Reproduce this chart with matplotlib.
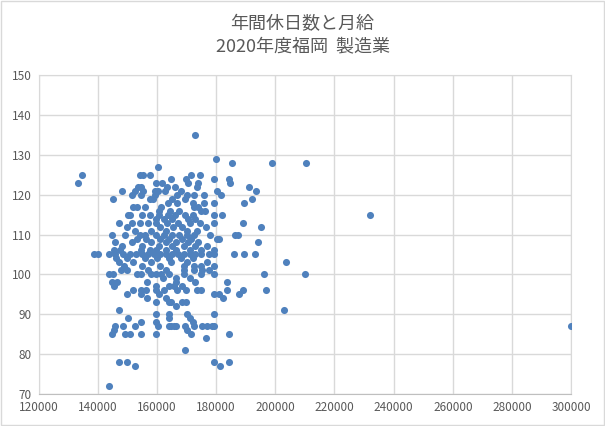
import matplotlib
matplotlib.use("Agg")
import matplotlib.pyplot as plt
from matplotlib.patches import Rectangle

plt.rcParams["font.family"] = ["Noto Sans CJK JP", "DejaVu Sans"]

# annual holidays (days) -> list of monthly salaries (yen)
ROWS = {
    135: [173000],
    129: [180000],
    128: [185300, 199000, 210500],
    127: [160300],
    125: [134700, 154200, 155200, 157500, 171600, 174500],
    124: [164700, 169700, 179300, 184200],
    123: [133300, 159700, 161700, 170500, 173800, 184700],
    122: [153600, 154700, 163500, 166000, 173600, 191200],
    121: [148300, 152500, 155300, 159200, 160300, 162800, 168000, 180300, 193600],
    120: [151400, 154700, 159200, 166900, 170000, 172500, 175800, 181600],
    119: [145000, 157500, 158600, 165000, 169500, 192000],
    118: [163600, 166900, 172000, 176000, 179300, 189300],
    117: [151900, 153100, 155800, 161500, 172500, 174000],
    116: [160800, 164500, 167500, 174700, 176200],
    115: [150300, 151000, 155000, 157500, 160500, 163800, 166200, 169500, 172000,
          179300, 181900, 232000],
    114: [159700, 162500, 165000, 170500, 173000],
    113: [147000, 151400, 154200, 157000, 159700, 163500, 167000, 171000, 174500,
          179300, 189000],
    112: [149700, 161000, 165500, 168500, 176500, 195000],
    111: [152500, 158000, 163000, 170000, 173500],
    110: [144700, 149200, 154200, 155800, 159700, 162500, 165000, 167500, 170000,
          172500, 178000, 186400, 187500],
    109: [153100, 156400, 161000, 164000, 168500, 171500, 180300, 181000],
    108: [145800, 151400, 158000, 163000, 166500, 170500, 174000, 194200],
    107: [148000, 155000, 160500, 165000, 169000, 173000, 177000],
    106: [145300, 147500, 154700, 157500, 159700, 163000, 166500, 171000, 175000, 179300],
    105: [138600, 140000, 143600, 145800, 148600, 151000, 153000, 155000, 157000,
          159000, 161000, 163000, 165000, 167000, 169000, 171000, 173000, 175000,
          177500, 179300, 186000, 189300, 193100],
    104: [146000, 150000, 156000, 160000, 164000, 168000, 172000],
    103: [147000, 152000, 158000, 164700, 170000, 177000, 203500],
    102: [149000, 155000, 161000, 169200, 172500, 174700, 179300],
    101: [147800, 149700, 157000, 163000, 169200, 172500, 175300, 177500],
    100: [143600, 145000, 153100, 154700, 158000, 159700, 161400, 164200, 169200,
          174700, 179300, 196000, 210000],
    99: [162000, 166400, 171000],
    98: [144700, 146400, 156600, 166400, 173000, 183600],
    97: [145300, 159700, 164200, 165800, 168500],
    96: [151900, 154700, 156200, 159700, 162500, 166900, 169700, 173600, 174900,
         183600, 189200, 197000],
    95: [149700, 154700, 160800, 179300, 180800, 187800],
    94: [156600, 163100, 182300],
    93: [159700, 164200, 164700, 168600, 169700],
    92: [166400],
    91: [147000, 203000],
    90: [159700, 164200, 170000, 179300],
    89: [150300, 164200, 171000],
    88: [154700, 159700, 172000],
    87: [145800, 148600, 152500, 160300, 164200, 164700, 165800, 166400, 169500,
         172500, 175300, 177000, 178600, 179300, 300000],
    86: [145300, 170000],
    85: [144700, 149200, 150700, 154700, 159700, 171500, 184200],
    84: [176400],
    81: [169500],
    78: [147000, 149700, 179300, 184200],
    77: [152600, 181300],
    72: [143600],
}

salary = [s for d, ss in ROWS.items() for s in ss]
holidays = [d for d, ss in ROWS.items() for s in ss]

X_TICKS = list(range(120000, 300001, 20000))
Y_TICKS = list(range(70, 151, 10))

TITLE = "年間休日数と月給\n2020年度福岡  製造業"

grey = "#595959"
grid = "#D9D9D9"

fig = plt.figure(figsize=(6.05, 4.26), dpi=100)
ax = fig.add_axes([0.064, 0.075, 0.88, 0.749])

ax.scatter(salary, holidays, s=26, color="#4F81BD", linewidths=0, zorder=3)

ax.set_xlim(120000, 300000)
ax.set_ylim(70, 150)
ax.set_xticks(X_TICKS)
ax.set_yticks(Y_TICKS)
ax.set_xticklabels([str(v) for v in X_TICKS])
ax.tick_params(axis="both", length=0, labelsize=8.5, colors=grey, pad=5)
ax.grid(True, color=grid, linewidth=1)
ax.set_axisbelow(True)
for sp in ax.spines.values():
    sp.set_color(grid)
ax.spines["bottom"].set_color("#BFBFBF")

fig.text(0.5, 0.918, TITLE, ha="center", va="center", fontsize=13,
         color=grey, linespacing=1.3)

fig.patches.append(Rectangle((0.002, 0.002), 0.996, 0.996, transform=fig.transFigure,
                             fill=False, edgecolor="#D9D9D9", linewidth=1))

fig.savefig("out.png", dpi=100)
